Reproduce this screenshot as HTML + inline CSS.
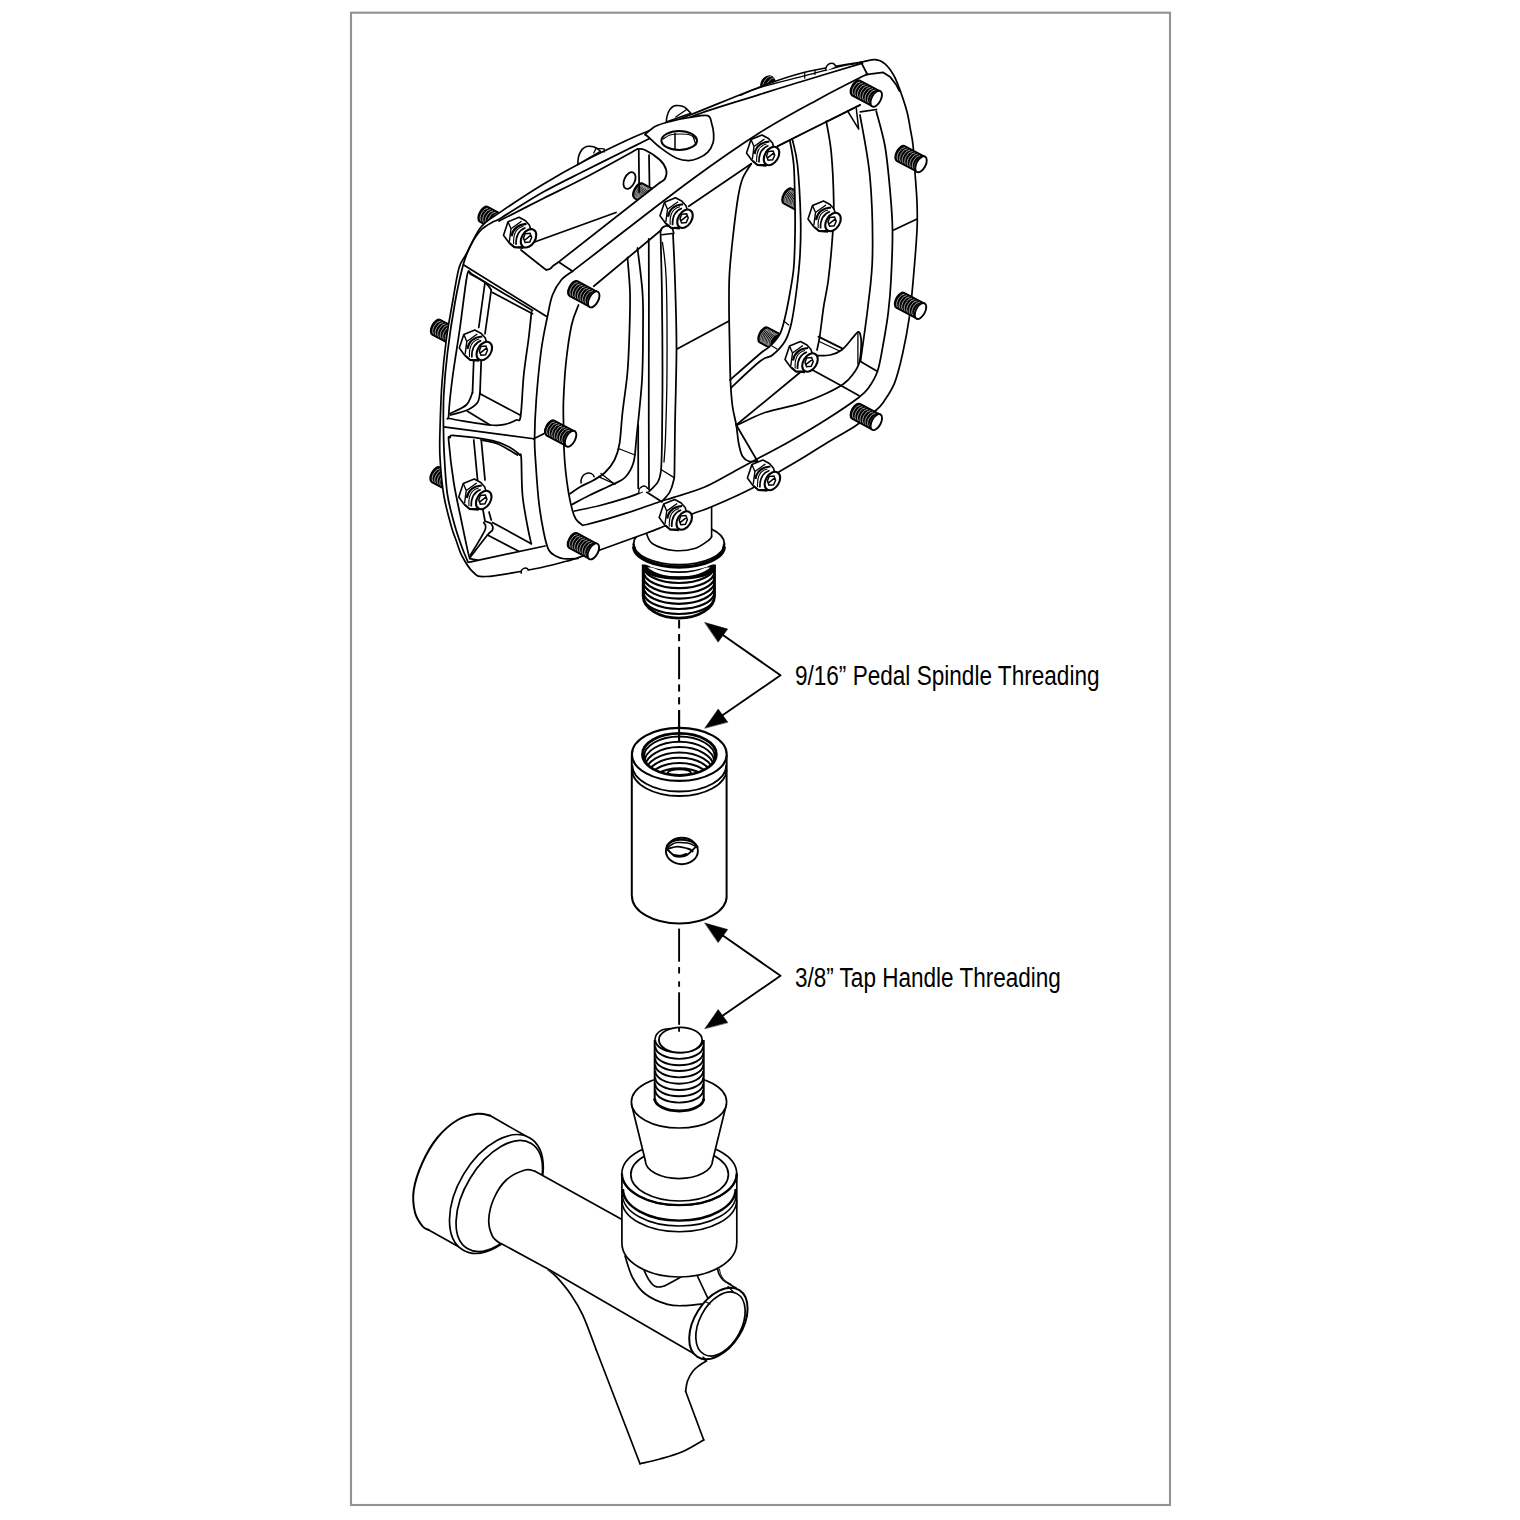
<!DOCTYPE html>
<html><head><meta charset="utf-8"><style>
html,body{margin:0;padding:0;background:#fff;width:1520px;height:1520px;overflow:hidden}
svg{position:absolute;left:0;top:0}
text{font-family:"Liberation Sans",sans-serif}
</style></head><body>
<svg width="1520" height="1520" viewBox="0 0 1520 1520">
<rect x="351" y="12.7" width="819" height="1492.3" fill="none" stroke="#929295" stroke-width="2.1"/>
<text x="0" y="0" font-size="27" transform="translate(794.9,684.9) scale(0.837,1)" fill="#000">9/16” Pedal Spindle Threading</text>
<text x="0" y="0" font-size="27" transform="translate(794.9,986.6) scale(0.835,1)" fill="#000">3/8” Tap Handle Threading</text>
<path d="M720,633 L780.5,675.3 L720,717" fill="none" stroke="#000" stroke-width="1.9" stroke-linejoin="round" stroke-linecap="round" />
<path d="M704.9,622.6 L727.7,629 L718.2,641.9 Z" fill="#000" stroke="#000" stroke-width="0.5" stroke-linejoin="round" stroke-linecap="round" />
<path d="M704.9,728 L718.2,709.1 L727.7,722 Z" fill="#000" stroke="#000" stroke-width="0.5" stroke-linejoin="round" stroke-linecap="round" />
<path d="M720,933.5 L780.5,975.8 L720,1017.5" fill="none" stroke="#000" stroke-width="1.9" stroke-linejoin="round" stroke-linecap="round" />
<path d="M704.9,923.1 L727.7,929.5 L718.2,942.4 Z" fill="#000" stroke="#000" stroke-width="0.5" stroke-linejoin="round" stroke-linecap="round" />
<path d="M704.9,1028.5 L718.2,1009.6 L727.7,1022.5 Z" fill="#000" stroke="#000" stroke-width="0.5" stroke-linejoin="round" stroke-linecap="round" />
<line x1="679.1" y1="620" x2="679.1" y2="628.4" stroke="#000" stroke-width="2.0" stroke-linecap="butt" />
<line x1="679.1" y1="634" x2="679.1" y2="641.2" stroke="#000" stroke-width="2.0" stroke-linecap="butt" />
<line x1="679.1" y1="646.8" x2="679.1" y2="679.2" stroke="#000" stroke-width="2.0" stroke-linecap="butt" />
<line x1="679.1" y1="684.4" x2="679.1" y2="691.6" stroke="#000" stroke-width="2.0" stroke-linecap="butt" />
<line x1="679.1" y1="697.2" x2="679.1" y2="704.4" stroke="#000" stroke-width="2.0" stroke-linecap="butt" />
<line x1="679.1" y1="710" x2="679.1" y2="745" stroke="#000" stroke-width="2.0" stroke-linecap="butt" />
<line x1="679.1" y1="928.6" x2="679.1" y2="961.7" stroke="#000" stroke-width="1.9" stroke-linecap="butt" />
<line x1="679.1" y1="967.1" x2="679.1" y2="973.5" stroke="#000" stroke-width="1.9" stroke-linecap="butt" />
<line x1="679.1" y1="981.4" x2="679.1" y2="986.8" stroke="#000" stroke-width="1.9" stroke-linecap="butt" />
<line x1="679.1" y1="992.3" x2="679.1" y2="1024.8" stroke="#000" stroke-width="1.9" stroke-linecap="butt" />
<line x1="679.1" y1="1027.3" x2="679.1" y2="1031.7" stroke="#000" stroke-width="1.9" stroke-linecap="butt" />
<defs><clipPath id="thr"><path d="M643.2,566 L643.2,596 A35.6,22 0 0 0 714.5,596 L714.5,566 Z"/></clipPath></defs>
<path d="M643.2,566 L643.2,596 A35.6,22 0 0 0 714.5,596 L714.5,566 Z" fill="#fff" stroke="none"/>
<path d="M643.4,555 A35.6,17 0 0 0 714.6,555" fill="none" stroke="#000" stroke-width="2.2" clip-path="url(#thr)"/>
<path d="M643.4,560.8 A35.6,17 0 0 0 714.6,560.8" fill="none" stroke="#000" stroke-width="2.2" clip-path="url(#thr)"/>
<path d="M643.4,566 A35.6,17 0 0 0 714.6,566" fill="none" stroke="#000" stroke-width="2.2" clip-path="url(#thr)"/>
<path d="M643.4,571.2 A35.6,17 0 0 0 714.6,571.2" fill="none" stroke="#000" stroke-width="2.2" clip-path="url(#thr)"/>
<path d="M643.4,576.4 A35.6,17 0 0 0 714.6,576.4" fill="none" stroke="#000" stroke-width="2.2" clip-path="url(#thr)"/>
<path d="M643.4,581.6 A35.6,17 0 0 0 714.6,581.6" fill="none" stroke="#000" stroke-width="2.2" clip-path="url(#thr)"/>
<path d="M643.4,586.8 A35.6,17 0 0 0 714.6,586.8" fill="none" stroke="#000" stroke-width="2.2" clip-path="url(#thr)"/>
<path d="M643.4,592 A35.6,17 0 0 0 714.6,592" fill="none" stroke="#000" stroke-width="2.2" clip-path="url(#thr)"/>
<path d="M643.4,597 A35.6,17 0 0 0 714.6,597" fill="none" stroke="#000" stroke-width="2.2" clip-path="url(#thr)"/>
<path d="M643.2,566 L643.2,596 A35.6,22 0 0 0 714.5,596 L714.5,566 Z" fill="none" stroke="#000" stroke-width="2.8"/>
<path d="M645,568 A34,10 0 0 0 713,568" fill="none" stroke="#000" stroke-width="3.5"/>
<path d="M633.5,543.7 L634.4,553.6 A45,21 0 0 0 723.3,553.6 L724.2,543.7 Z" fill="#fff" stroke="none"/>
<ellipse cx="679" cy="543.7" rx="45.4" ry="21" fill="#fff" stroke="#000" stroke-width="1.8" />
<path d="M633.8,546.5 A45.2,20.5 0 0 0 724.2,546.5" fill="none" stroke="#000" stroke-width="3.4" />
<line x1="633.5" y1="543.7" x2="634.4" y2="550" stroke="#000" stroke-width="2.4" stroke-linecap="butt" />
<line x1="724.2" y1="543.7" x2="723.3" y2="550" stroke="#000" stroke-width="2.4" stroke-linecap="butt" />
<path d="M646.3,533.2 L646.3,512 L711.6,504 L711.6,537 A33,18 0 0 1 646.3,533.2 Z" fill="#fff" stroke="none"/>
<path d="M646.3,533.2 C647.35,534.95 648.03,540.82 652.6,543.7 C657.17,546.58 666.68,549.72 673.7,550.5 C680.72,551.28 688.73,550.23 694.7,548.4 C700.67,546.57 706.68,541.57 709.5,539.5 C712.32,537.43 711.25,536.58 711.6,536" fill="none" stroke="#000" stroke-width="1.6" stroke-linejoin="round" stroke-linecap="round" />
<line x1="711.6" y1="506.8" x2="711.6" y2="537.4" stroke="#000" stroke-width="1.6" stroke-linecap="butt" />
<g transform="translate(504,225) rotate(28)"><path d="M0,-8.7 L-23.0,-8.7 A4.6,8.7 0 0 0 -23.0,8.7 L0,8.7 Z" fill="#000" stroke="#000" stroke-width="1.3"/><path d="M-22,-7.4 A4.6,7.699999999999999 0 0 0 -22,7.4" fill="none" stroke="#fff" stroke-width="0.6" opacity="0.9"/><path d="M-19.14,-7.4 A4.6,7.699999999999999 0 0 0 -19.14,7.4" fill="none" stroke="#fff" stroke-width="0.6" opacity="0.9"/><path d="M-16.29,-7.4 A4.6,7.699999999999999 0 0 0 -16.29,7.4" fill="none" stroke="#fff" stroke-width="0.6" opacity="0.9"/><path d="M-13.43,-7.4 A4.6,7.699999999999999 0 0 0 -13.43,7.4" fill="none" stroke="#fff" stroke-width="0.6" opacity="0.9"/><path d="M-10.57,-7.4 A4.6,7.699999999999999 0 0 0 -10.57,7.4" fill="none" stroke="#fff" stroke-width="0.6" opacity="0.9"/><path d="M-7.71,-7.4 A4.6,7.699999999999999 0 0 0 -7.71,7.4" fill="none" stroke="#fff" stroke-width="0.6" opacity="0.9"/><path d="M-4.86,-7.4 A4.6,7.699999999999999 0 0 0 -4.86,7.4" fill="none" stroke="#fff" stroke-width="0.6" opacity="0.9"/><path d="M-2,-7.4 A4.6,7.699999999999999 0 0 0 -2,7.4" fill="none" stroke="#fff" stroke-width="0.6" opacity="0.9"/><ellipse cx="0" cy="0" rx="4.6" ry="8.7" fill="#fff" stroke="#000" stroke-width="1.9"/></g>
<g transform="translate(456.5,338) rotate(28)"><path d="M0,-8.7 L-23.0,-8.7 A4.6,8.7 0 0 0 -23.0,8.7 L0,8.7 Z" fill="#000" stroke="#000" stroke-width="1.3"/><path d="M-22,-7.4 A4.6,7.699999999999999 0 0 0 -22,7.4" fill="none" stroke="#fff" stroke-width="0.6" opacity="0.9"/><path d="M-19.14,-7.4 A4.6,7.699999999999999 0 0 0 -19.14,7.4" fill="none" stroke="#fff" stroke-width="0.6" opacity="0.9"/><path d="M-16.29,-7.4 A4.6,7.699999999999999 0 0 0 -16.29,7.4" fill="none" stroke="#fff" stroke-width="0.6" opacity="0.9"/><path d="M-13.43,-7.4 A4.6,7.699999999999999 0 0 0 -13.43,7.4" fill="none" stroke="#fff" stroke-width="0.6" opacity="0.9"/><path d="M-10.57,-7.4 A4.6,7.699999999999999 0 0 0 -10.57,7.4" fill="none" stroke="#fff" stroke-width="0.6" opacity="0.9"/><path d="M-7.71,-7.4 A4.6,7.699999999999999 0 0 0 -7.71,7.4" fill="none" stroke="#fff" stroke-width="0.6" opacity="0.9"/><path d="M-4.86,-7.4 A4.6,7.699999999999999 0 0 0 -4.86,7.4" fill="none" stroke="#fff" stroke-width="0.6" opacity="0.9"/><path d="M-2,-7.4 A4.6,7.699999999999999 0 0 0 -2,7.4" fill="none" stroke="#fff" stroke-width="0.6" opacity="0.9"/><ellipse cx="0" cy="0" rx="4.6" ry="8.7" fill="#fff" stroke="#000" stroke-width="1.9"/></g>
<g transform="translate(456,485.5) rotate(28)"><path d="M0,-8.7 L-23.0,-8.7 A4.6,8.7 0 0 0 -23.0,8.7 L0,8.7 Z" fill="#000" stroke="#000" stroke-width="1.3"/><path d="M-22,-7.4 A4.6,7.699999999999999 0 0 0 -22,7.4" fill="none" stroke="#fff" stroke-width="0.6" opacity="0.9"/><path d="M-19.14,-7.4 A4.6,7.699999999999999 0 0 0 -19.14,7.4" fill="none" stroke="#fff" stroke-width="0.6" opacity="0.9"/><path d="M-16.29,-7.4 A4.6,7.699999999999999 0 0 0 -16.29,7.4" fill="none" stroke="#fff" stroke-width="0.6" opacity="0.9"/><path d="M-13.43,-7.4 A4.6,7.699999999999999 0 0 0 -13.43,7.4" fill="none" stroke="#fff" stroke-width="0.6" opacity="0.9"/><path d="M-10.57,-7.4 A4.6,7.699999999999999 0 0 0 -10.57,7.4" fill="none" stroke="#fff" stroke-width="0.6" opacity="0.9"/><path d="M-7.71,-7.4 A4.6,7.699999999999999 0 0 0 -7.71,7.4" fill="none" stroke="#fff" stroke-width="0.6" opacity="0.9"/><path d="M-4.86,-7.4 A4.6,7.699999999999999 0 0 0 -4.86,7.4" fill="none" stroke="#fff" stroke-width="0.6" opacity="0.9"/><path d="M-2,-7.4 A4.6,7.699999999999999 0 0 0 -2,7.4" fill="none" stroke="#fff" stroke-width="0.6" opacity="0.9"/><ellipse cx="0" cy="0" rx="4.6" ry="8.7" fill="#fff" stroke="#000" stroke-width="1.9"/></g>
<g transform="rotate(28 768 84)"><ellipse cx="768" cy="84" rx="7.5" ry="9" fill="#000"/><path d="M764,76 A4,8 0 0 0 764,92 M767.5,76 A4,8 0 0 0 767.5,92 M771,76 A4,8 0 0 0 771,92" fill="none" stroke="#fff" stroke-width="0.5"/></g>
<path d="M913,145 C913.75,152.08 914.33,162.92 915,172.5 C915.67,182.08 916.67,192.92 917,202.5 C917.33,212.08 917.63,217.08 917,230 C916.37,242.92 914.5,265.3 913.2,280 C911.9,294.7 910.97,305.92 909.2,318.2 C907.43,330.48 905.02,342.97 902.6,353.7 C900.18,364.43 897.77,374.72 894.7,382.6 C891.63,390.48 887.27,396.43 884.2,401 C881.13,405.57 881.12,405.83 876.3,410 C871.48,414.17 863.63,420.47 855.3,426 C846.97,431.53 835.52,437.62 826.3,443.2 C817.08,448.78 807.72,454.82 800,459.5 C792.28,464.18 787.9,466.52 780,471.25 C772.1,475.98 764,481.97 752.6,487.9 C741.2,493.82 721.77,502.42 711.6,506.8 C701.43,511.18 700.37,510.6 691.6,514.2 C682.83,517.8 666.55,525.23 659,528.4 C651.45,531.57 656.13,529.6 646.3,533.2 C636.47,536.8 611.72,545.78 600,550 C588.28,554.22 581.62,556.62 576,558.5 C570.38,560.38 573.08,559.54 566.25,561.25 C559.42,562.96 548.38,566.21 535,568.75 C521.62,571.29 496.33,575.96 486,576.5 C475.67,577.04 477,575.42 473,572 C469,568.58 464.83,561.33 462,556 C459.17,550.67 457.79,544.96 456,540 C454.21,535.04 453.29,533.75 451.25,526.25 C449.21,518.75 445.62,506.46 443.75,495 C441.88,483.54 440.62,468.33 440,457.5 C439.38,446.67 439.68,442.29 440,430 C440.32,417.71 440.86,398.75 441.9,383.75 C442.94,368.75 444.48,353.54 446.25,340 C448.02,326.46 450.38,314.5 452.5,302.5 C454.62,290.5 456.7,276.08 459,268 C461.3,259.92 462.63,260.83 466.3,254 C469.97,247.17 475.2,234.07 481,227 C486.8,219.93 490.73,218.73 501.1,211.6 C511.47,204.47 529.17,192.72 543.2,184.2 C557.23,175.68 571.27,167.87 585.3,160.5 C599.33,153.13 617.28,144.75 627.4,140 C637.52,135.25 635.57,136.17 646,132 C656.43,127.83 670.17,122.83 690,115 C709.83,107.17 746.04,92.08 765,85 C783.96,77.92 791.25,75.73 803.75,72.5 C816.25,69.27 830.46,67.33 840,65.6 C849.54,63.87 855.12,63.08 861,62.1 C866.88,61.12 871.35,59.43 875.3,59.7 C879.25,59.97 881.68,61.2 884.7,63.7 C887.72,66.2 891.02,70.75 893.4,74.7 C895.78,78.65 896.77,81.35 899,87.4 C901.23,93.45 904.88,103.9 906.8,111 C908.72,118.1 909.47,124.33 910.5,130 C911.53,135.67 912.25,137.92 913,145 Z" fill="#fff" stroke="#000" stroke-width="1.7" stroke-linejoin="round"/>
<path d="M862.5,63.1 C852.08,66.25 817.08,76.78 800,82 C782.92,87.22 777.92,88.69 760,94.4 C742.08,100.11 711.25,108.73 692.5,116.25 C673.75,123.77 658.35,133.96 647.5,139.5 C636.65,145.04 637.77,144.33 627.4,149.5 C617.03,154.67 599.33,163.4 585.3,170.5 C571.27,177.6 557.23,184.2 543.2,192.1 C529.17,200 509.35,213 501.1,217.9 C492.85,222.8 497.05,219.48 493.7,221.5 C490.35,223.52 484.87,225.95 481,230 C477.13,234.05 473.47,240.02 470.5,245.8 C467.53,251.58 465.78,255.25 463.2,264.7 C460.62,274.15 457.62,287.87 455,302.5 C452.38,317.13 449.38,337.08 447.5,352.5 C445.62,367.92 444.42,382.08 443.75,395 C443.08,407.92 443.39,419.58 443.5,430 C443.61,440.42 443.73,446.67 444.4,457.5 C445.07,468.33 445.73,483.54 447.5,495 C449.27,506.46 452.5,517.29 455,526.25 C457.5,535.21 460.33,542.79 462.5,548.75 C464.67,554.71 467.08,559.79 468,562" fill="none" stroke="#000" stroke-width="1.75" stroke-linejoin="round" stroke-linecap="round" />
<path d="M468.5,562.3 L545,546" fill="none" stroke="#000" stroke-width="1.75" stroke-linejoin="round" stroke-linecap="round" />
<path d="M861,62.1 L867.4,74.5" fill="none" stroke="#000" stroke-width="1.75" stroke-linejoin="round" stroke-linecap="round" />
<path d="M740,95.5 C743.28,94.18 749.2,90.82 759.7,87.6 C770.2,84.38 789.83,79.67 803,76.2 C816.17,72.73 829.53,68.92 838.7,66.8 C847.87,64.68 854.78,64.05 858,63.5" fill="none" stroke="#000" stroke-width="1.2" stroke-linejoin="round" stroke-linecap="round" />
<path d="M804.7,72.6 L804.7,78.2" fill="none" stroke="#000" stroke-width="1.2" stroke-linejoin="round" stroke-linecap="round" />
<path d="M815,70.5 L815,74.5" fill="none" stroke="#000" stroke-width="1.2" stroke-linejoin="round" stroke-linecap="round" />
<path d="M463.75,265 L546.25,316.25" fill="none" stroke="#000" stroke-width="1.75" stroke-linejoin="round" stroke-linecap="round" />
<path d="M572.5,271.25 C570.62,272.71 564.58,276.04 561.25,280 C557.92,283.96 554.79,288.96 552.5,295 C550.21,301.04 549.38,307.08 547.5,316.25 C545.62,325.42 543.12,336.04 541.25,350 C539.38,363.96 537.36,385.42 536.25,400 C535.14,414.58 534.73,427.5 534.6,437.5 C534.48,447.5 534.81,449.38 535.5,460 C536.19,470.62 537.38,489.17 538.75,501.25 C540.12,513.33 542.08,524.38 543.75,532.5 C545.42,540.62 546.67,546.04 548.75,550 C550.83,553.96 553.75,554.79 556.25,556.25 C558.75,557.71 560.12,558.38 563.75,558.75 C567.38,559.12 575.62,558.54 578,558.5" fill="none" stroke="#000" stroke-width="1.75" stroke-linejoin="round" stroke-linecap="round" />
<path d="M443.75,426.9 L533.75,438.75" fill="none" stroke="#000" stroke-width="1.75" stroke-linejoin="round" stroke-linecap="round" />
<path d="M533.75,438.75 L543.75,433.75" fill="none" stroke="#000" stroke-width="1.75" stroke-linejoin="round" stroke-linecap="round" />
<path d="M532.5,310.5 C522.92,304.75 485.33,282.25 475,276 C464.67,269.75 471.83,273 470.5,273 C469.17,273 468.75,266.92 467,276 C465.25,285.08 462.42,310.58 460,327.5 C457.58,344.42 454.38,362.92 452.5,377.5 C450.62,392.08 448.96,408.12 448.75,415 C448.54,421.88 444.38,417.08 451.25,418.75 C458.12,420.42 481.04,424.06 490,425 C498.96,425.94 500.62,425.23 505,424.4 C509.38,423.57 513.65,421.36 516.25,420 C518.85,418.64 519.35,423.75 520.6,416.25 C521.85,408.75 522.39,388.12 523.75,375 C525.11,361.88 527.46,348 528.75,337.5 C530.04,327 531.04,316.25 531.5,312" fill="none" stroke="#000" stroke-width="1.75" stroke-linejoin="round" stroke-linecap="round" />
<path d="M470,273.75 C472.5,275.21 481.46,279.79 485,282.5 C488.54,285.21 490.21,288.75 491.25,290" fill="none" stroke="#000" stroke-width="1.75" stroke-linejoin="round" stroke-linecap="round" />
<path d="M491.25,290 L485,333.75" fill="none" stroke="#000" stroke-width="1.75" stroke-linejoin="round" stroke-linecap="round" />
<path d="M481.25,360 L480,392.5" fill="none" stroke="#000" stroke-width="1.75" stroke-linejoin="round" stroke-linecap="round" />
<path d="M485,282.5 L478.75,327.5" fill="none" stroke="#000" stroke-width="1.75" stroke-linejoin="round" stroke-linecap="round" />
<path d="M473.75,360 L472.5,392.5" fill="none" stroke="#000" stroke-width="1.75" stroke-linejoin="round" stroke-linecap="round" />
<path d="M480,392.5 C479.58,394.17 479.58,399.58 477.5,402.5 C475.42,405.42 472,407.92 467.5,410 C463,412.08 453.33,414.17 450.5,415" fill="none" stroke="#000" stroke-width="1.75" stroke-linejoin="round" stroke-linecap="round" />
<path d="M472.5,392.5 C471.46,394.58 470,401.5 466.25,405 C462.5,408.5 452.71,412.08 450,413.5" fill="none" stroke="#000" stroke-width="1.75" stroke-linejoin="round" stroke-linecap="round" />
<path d="M480,393.75 L520,415" fill="none" stroke="#000" stroke-width="1.75" stroke-linejoin="round" stroke-linecap="round" />
<path d="M467.5,411.25 L490,425" fill="none" stroke="#000" stroke-width="1.75" stroke-linejoin="round" stroke-linecap="round" />
<path d="M492.5,292.5 L532.5,313.75" fill="none" stroke="#000" stroke-width="1.75" stroke-linejoin="round" stroke-linecap="round" />
<path d="M520,455 C518.33,453.75 514.58,449.9 510,447.5 C505.42,445.1 501.67,442.58 492.5,440.6 C483.33,438.62 462.08,436.12 455,435.6 C447.92,435.08 451.04,436.56 450,437.5 C448.96,438.44 448.12,433.75 448.75,441.25 C449.38,448.75 451.67,469.38 453.75,482.5 C455.83,495.62 458.75,507.92 461.25,520 C463.75,532.08 467.08,548.54 468.75,555 C470.42,561.46 469.79,557.92 471.25,558.75 C472.71,559.58 476.46,559.79 477.5,560" fill="none" stroke="#000" stroke-width="1.75" stroke-linejoin="round" stroke-linecap="round" />
<path d="M520,455 C520.21,455.5 520.83,451.33 521.25,458 C521.67,464.67 521.46,483.62 522.5,495 C523.54,506.38 526.04,518.12 527.5,526.25 C528.96,534.38 530.62,540.83 531.25,543.75" fill="none" stroke="#000" stroke-width="1.75" stroke-linejoin="round" stroke-linecap="round" />
<path d="M473.75,440 L478.5,490" fill="none" stroke="#000" stroke-width="1.75" stroke-linejoin="round" stroke-linecap="round" />
<path d="M482.5,507.5 L485,521" fill="none" stroke="#000" stroke-width="1.75" stroke-linejoin="round" stroke-linecap="round" />
<path d="M481.25,440 L485,480" fill="none" stroke="#000" stroke-width="1.75" stroke-linejoin="round" stroke-linecap="round" />
<path d="M489,512 L491.25,520" fill="none" stroke="#000" stroke-width="1.75" stroke-linejoin="round" stroke-linecap="round" />
<path d="M485,521.25 C486.04,521.67 490,522.29 491.25,523.75 C492.5,525.21 493.12,528.12 492.5,530 C491.88,531.88 491.25,530.42 487.5,535 C483.75,539.58 472.92,553.75 470,557.5" fill="none" stroke="#000" stroke-width="1.75" stroke-linejoin="round" stroke-linecap="round" />
<path d="M483.75,522.5 C483.96,523.75 487.21,524.58 485,530 C482.79,535.42 472.92,550.83 470.5,555" fill="none" stroke="#000" stroke-width="1.75" stroke-linejoin="round" stroke-linecap="round" />
<path d="M487.5,535 L518.75,551.25" fill="none" stroke="#000" stroke-width="1.75" stroke-linejoin="round" stroke-linecap="round" />
<path d="M492.5,522.5 L531.25,543.75" fill="none" stroke="#000" stroke-width="1.75" stroke-linejoin="round" stroke-linecap="round" />
<path d="M481.25,440 C483.96,440.62 491.46,441.25 497.5,443.75 C503.54,446.25 514.17,453.12 517.5,455" fill="none" stroke="#000" stroke-width="1.75" stroke-linejoin="round" stroke-linecap="round" />
<g transform="translate(649,196.5) rotate(28)"><path d="M0,-8.7 L-12,-8.7 A4.6,8.7 0 0 0 -12,8.7 L0,8.7 Z" fill="#000" stroke="#000" stroke-width="1.3"/><path d="M-11,-7.4 A4.6,7.699999999999999 0 0 0 -11,7.4" fill="none" stroke="#fff" stroke-width="0.6" opacity="0.9"/><path d="M-9.71,-7.4 A4.6,7.699999999999999 0 0 0 -9.71,7.4" fill="none" stroke="#fff" stroke-width="0.6" opacity="0.9"/><path d="M-8.43,-7.4 A4.6,7.699999999999999 0 0 0 -8.43,7.4" fill="none" stroke="#fff" stroke-width="0.6" opacity="0.9"/><path d="M-7.14,-7.4 A4.6,7.699999999999999 0 0 0 -7.14,7.4" fill="none" stroke="#fff" stroke-width="0.6" opacity="0.9"/><path d="M-5.86,-7.4 A4.6,7.699999999999999 0 0 0 -5.86,7.4" fill="none" stroke="#fff" stroke-width="0.6" opacity="0.9"/><path d="M-4.57,-7.4 A4.6,7.699999999999999 0 0 0 -4.57,7.4" fill="none" stroke="#fff" stroke-width="0.6" opacity="0.9"/><path d="M-3.29,-7.4 A4.6,7.699999999999999 0 0 0 -3.29,7.4" fill="none" stroke="#fff" stroke-width="0.6" opacity="0.9"/><path d="M-2,-7.4 A4.6,7.699999999999999 0 0 0 -2,7.4" fill="none" stroke="#fff" stroke-width="0.6" opacity="0.9"/></g>
<path d="M660,182.5 L558.75,261.9 L572.5,271.25 L600,250 L691.25,180 L672,168 Z" fill="#fff" stroke="none"/>
<path d="M499,221 C506.37,217.25 528.82,205.75 543.2,198.5 C557.58,191.25 569.58,185.75 585.3,177.5 C601.02,169.25 628.8,153.75 637.5,149" fill="none" stroke="#000" stroke-width="1.75" stroke-linejoin="round" stroke-linecap="round" />
<path d="M637.5,149 C638.75,149.17 641.25,148.17 645,150 C648.75,151.83 656.46,156.67 660,160 C663.54,163.33 665.42,166.88 666.25,170 C667.08,173.12 666.04,176.67 665,178.75 C663.96,180.83 660.83,181.88 660,182.5" fill="none" stroke="#000" stroke-width="1.75" stroke-linejoin="round" stroke-linecap="round" />
<path d="M638.75,150 L639.2,192" fill="none" stroke="#000" stroke-width="1.75" stroke-linejoin="round" stroke-linecap="round" />
<path d="M649,155 L649.5,186" fill="none" stroke="#000" stroke-width="1.75" stroke-linejoin="round" stroke-linecap="round" />
<ellipse cx="629.5" cy="180.5" rx="5.3" ry="8.8" fill="none" stroke="#000" stroke-width="1.8" transform="rotate(25 629.5 180.5)" />
<path d="M660,182.5 L558.75,261.9" fill="none" stroke="#000" stroke-width="1.75" stroke-linejoin="round" stroke-linecap="round" />
<path d="M529,244 L616,212.5" fill="none" stroke="#000" stroke-width="1.75" stroke-linejoin="round" stroke-linecap="round" />
<path d="M521,250 C524.83,253.03 539.67,264.93 544,268.2 C548.33,271.47 545.92,269.55 547,269.6 C548.08,269.65 549.42,269.18 550.5,268.5 C551.58,267.82 552.12,266.6 553.5,265.5 C554.88,264.4 557.88,262.5 558.75,261.9" fill="none" stroke="#000" stroke-width="1.75" stroke-linejoin="round" stroke-linecap="round" />
<path d="M558.75,262 L572.5,271.25" fill="none" stroke="#000" stroke-width="1.75" stroke-linejoin="round" stroke-linecap="round" />
<path d="M666.2,122 C667,112 671,106 675.7,105.6 C680,105.2 684,106.5 686.3,108.6 L691,113.3 Z" fill="#fff" stroke="#000" stroke-width="1.6" stroke-linejoin="round"/>
<path d="M675.7,117 L686.3,109.7" fill="none" stroke="#000" stroke-width="1.3" stroke-linejoin="round" stroke-linecap="round" />
<path d="M644.9,134.6 C646.67,133.22 651.37,128.47 655.5,126.3 C659.63,124.13 663.95,123.07 669.7,121.6 C675.45,120.13 683.68,118.48 690,117.5 C696.32,116.52 703.97,114.62 707.6,115.7 C711.23,116.78 710.8,121.05 711.8,124 C712.8,126.95 713.4,130.25 713.6,133.4 C713.8,136.55 714,139.73 713,142.9 C712,146.07 710.07,149.83 707.6,152.4 C705.13,154.97 701.35,156.92 698.2,158.3 C695.05,159.68 692.27,160.7 688.7,160.7 C685.13,160.7 681.53,160.48 676.8,158.3 C672.07,156.12 665.03,151.15 660.3,147.6 C655.57,144.05 650.97,139.17 648.4,137 C645.83,134.83 645.48,135 644.9,134.6" fill="#fff" stroke="#000" stroke-width="1.75" stroke-linejoin="round" stroke-linecap="round" />
<ellipse cx="679.2" cy="140.5" rx="17.8" ry="9.5" fill="none" stroke="#000" stroke-width="2.0" />
<path d="M663,139 C664.17,138.33 667.17,135.83 670,135 C672.83,134.17 676.67,134 680,134 C683.33,134 687.33,134.17 690,135 C692.67,135.83 695,138.33 696,139" fill="none" stroke="#000" stroke-width="1.2" stroke-linejoin="round" stroke-linecap="round" />
<path d="M675,133.5 L675,149.5" fill="none" stroke="#000" stroke-width="1.5" stroke-linejoin="round" stroke-linecap="round" />
<path d="M692.5,135 L696,145" fill="none" stroke="#000" stroke-width="1.2" stroke-linejoin="round" stroke-linecap="round" />
<path d="M577.9,164.5 C577.5,154 582,146.3 589,146.3 C594,146.3 598,148.5 600.5,151.5 Z" fill="#fff" stroke="#000" stroke-width="1.6"/>
<path d="M593.7,153 L596,148.4 L604.2,148.8 L604.2,152" fill="none" stroke="#000" stroke-width="1.3" stroke-linejoin="round" stroke-linecap="round" />
<path d="M826.05,71.03 A4.675,5.5 28 0 1 835.67,66.35" fill="#fff" stroke="#000" stroke-width="1.5"/>
<path d="M572.5,271.25 C577.08,267.71 580.21,265.21 600,250 C619.79,234.79 664.58,199.58 691.25,180 C717.92,160.42 738.54,146.1 760,132.5 C781.46,118.9 802.37,108.03 820,98.4 C837.63,88.77 858.17,78.65 865.8,74.7" fill="none" stroke="#000" stroke-width="1.75" stroke-linejoin="round" stroke-linecap="round" />
<path d="M865.8,74.7 L883.2,72.4 L890.3,77.1 L895.8,84.2 L899.5,91" fill="none" stroke="#000" stroke-width="1.75" stroke-linejoin="round" stroke-linecap="round" />
<path d="M578.5,305 C577.35,308.33 573.68,315.42 571.6,325 C569.52,334.58 567.35,350 566,362.5 C564.65,375 563.92,390 563.5,400 C563.08,410 563.42,414.38 563.5,422.5 C563.58,430.62 563.67,440.83 564,448.75 C564.33,456.67 564.72,462.51 565.5,470 C566.28,477.49 567.52,486.87 568.7,493.7 C569.88,500.53 571.42,506.78 572.6,511 C573.78,515.22 574.35,516.82 575.8,519 C577.25,521.18 579.47,523.18 581.3,524.1 C583.13,525.02 579.82,526.15 586.8,524.5 C593.78,522.85 611.18,517.95 623.2,514.2 C635.22,510.45 650.48,504.8 658.9,502 C667.32,499.2 665.97,499.93 673.7,497.4 C681.43,494.87 694.78,491.37 705.3,486.8 C715.82,482.23 728.1,474.68 736.8,470 C745.5,465.32 748.63,463.54 757.5,458.75 C766.37,453.96 778.33,447.92 790,441.25 C801.67,434.58 816.04,426.04 827.5,418.75 C838.96,411.46 851.88,402.71 858.75,397.5 C865.62,392.29 865.61,391.92 868.75,387.5 C871.89,383.08 875.24,377.95 877.6,371 C879.96,364.05 881.13,355.48 882.9,345.8 C884.67,336.12 886.85,323.87 888.2,312.9 C889.55,301.93 890.28,293.82 891,280 C891.72,266.18 892.67,245 892.5,230 C892.33,215 891.25,203.96 890,190 C888.75,176.04 887.29,159.38 885,146.25 C882.71,133.12 877.71,117.08 876.25,111.25" fill="none" stroke="#000" stroke-width="1.75" stroke-linejoin="round" stroke-linecap="round" />
<path d="M593.75,286.25 L661.25,230" fill="none" stroke="#000" stroke-width="1.75" stroke-linejoin="round" stroke-linecap="round" />
<path d="M688.75,206.25 L751.25,163.75" fill="none" stroke="#000" stroke-width="1.75" stroke-linejoin="round" stroke-linecap="round" />
<path d="M777.5,146.25 L860,105" fill="none" stroke="#000" stroke-width="1.75" stroke-linejoin="round" stroke-linecap="round" />
<path d="M847.6,111 L858.7,129.2 L856.3,108.7" fill="none" stroke="#000" stroke-width="1.5" stroke-linejoin="round" stroke-linecap="round" />
<path d="M860.3,111.8 L876.5,109.5" fill="none" stroke="#000" stroke-width="1.75" stroke-linejoin="round" stroke-linecap="round" />
<g transform="translate(800,202.6) rotate(28)"><path d="M0,-8.7 L-14,-8.7 A4.6,8.7 0 0 0 -14,8.7 L0,8.7 Z" fill="#000" stroke="#000" stroke-width="1.3"/><path d="M-13,-7.4 A4.6,7.699999999999999 0 0 0 -13,7.4" fill="none" stroke="#fff" stroke-width="0.6" opacity="0.9"/><path d="M-11.43,-7.4 A4.6,7.699999999999999 0 0 0 -11.43,7.4" fill="none" stroke="#fff" stroke-width="0.6" opacity="0.9"/><path d="M-9.86,-7.4 A4.6,7.699999999999999 0 0 0 -9.86,7.4" fill="none" stroke="#fff" stroke-width="0.6" opacity="0.9"/><path d="M-8.29,-7.4 A4.6,7.699999999999999 0 0 0 -8.29,7.4" fill="none" stroke="#fff" stroke-width="0.6" opacity="0.9"/><path d="M-6.71,-7.4 A4.6,7.699999999999999 0 0 0 -6.71,7.4" fill="none" stroke="#fff" stroke-width="0.6" opacity="0.9"/><path d="M-5.14,-7.4 A4.6,7.699999999999999 0 0 0 -5.14,7.4" fill="none" stroke="#fff" stroke-width="0.6" opacity="0.9"/><path d="M-3.57,-7.4 A4.6,7.699999999999999 0 0 0 -3.57,7.4" fill="none" stroke="#fff" stroke-width="0.6" opacity="0.9"/><path d="M-2,-7.4 A4.6,7.699999999999999 0 0 0 -2,7.4" fill="none" stroke="#fff" stroke-width="0.6" opacity="0.9"/></g>
<g transform="translate(776,341.6) rotate(28)"><path d="M0,-8.7 L-14,-8.7 A4.6,8.7 0 0 0 -14,8.7 L0,8.7 Z" fill="#000" stroke="#000" stroke-width="1.3"/><path d="M-13,-7.4 A4.6,7.699999999999999 0 0 0 -13,7.4" fill="none" stroke="#fff" stroke-width="0.6" opacity="0.9"/><path d="M-11.43,-7.4 A4.6,7.699999999999999 0 0 0 -11.43,7.4" fill="none" stroke="#fff" stroke-width="0.6" opacity="0.9"/><path d="M-9.86,-7.4 A4.6,7.699999999999999 0 0 0 -9.86,7.4" fill="none" stroke="#fff" stroke-width="0.6" opacity="0.9"/><path d="M-8.29,-7.4 A4.6,7.699999999999999 0 0 0 -8.29,7.4" fill="none" stroke="#fff" stroke-width="0.6" opacity="0.9"/><path d="M-6.71,-7.4 A4.6,7.699999999999999 0 0 0 -6.71,7.4" fill="none" stroke="#fff" stroke-width="0.6" opacity="0.9"/><path d="M-5.14,-7.4 A4.6,7.699999999999999 0 0 0 -5.14,7.4" fill="none" stroke="#fff" stroke-width="0.6" opacity="0.9"/><path d="M-3.57,-7.4 A4.6,7.699999999999999 0 0 0 -3.57,7.4" fill="none" stroke="#fff" stroke-width="0.6" opacity="0.9"/><path d="M-2,-7.4 A4.6,7.699999999999999 0 0 0 -2,7.4" fill="none" stroke="#fff" stroke-width="0.6" opacity="0.9"/></g>
<path d="M790,141.25 C790.62,145.21 792.92,154.38 793.75,165 C794.58,175.62 794.79,193.12 795,205 C795.21,216.88 795.21,225.83 795,236.25 C794.79,246.67 794.58,258.12 793.75,267.5 C792.92,276.88 791.46,284.17 790,292.5 C788.54,300.83 786.67,310.62 785,317.5 C783.33,324.38 782.5,328.96 780,333.75 C777.5,338.54 773.33,342.92 770,346.25 C766.67,349.58 766.67,348.12 760,353.75 C753.33,359.38 735,375.62 730,380 L760,400 L817,352 L823.7,306.3 L832,236 L833,160 L826,121 Z" fill="#fff" stroke="none"/>
<path d="M777.5,146.25 L860,105" fill="none" stroke="#000" stroke-width="1.75" stroke-linejoin="round" stroke-linecap="round" />
<path d="M751.25,163.75 C749.79,166.25 744.71,173.12 742.5,178.75 C740.29,184.38 739.58,187.92 738,197.5 C736.42,207.08 734.42,223.54 733,236.25 C731.58,248.96 730.17,262.29 729.5,273.75 C728.83,285.21 729,294.38 729,305 C729,315.62 729.25,324.79 729.5,337.5 C729.75,350.21 730,369.79 730.5,381.25 C731,392.71 731.54,398.96 732.5,406.25 C733.46,413.54 735.21,418.75 736.25,425 C737.29,431.25 737.71,438.54 738.75,443.75 C739.79,448.96 740.83,453.33 742.5,456.25 C744.17,459.17 746.25,460.42 748.75,461.25 C751.25,462.08 756.04,461.25 757.5,461.25" fill="none" stroke="#000" stroke-width="1.75" stroke-linejoin="round" stroke-linecap="round" />
<path d="M790,141.25 C790.62,145.21 792.92,154.38 793.75,165 C794.58,175.62 794.79,193.12 795,205 C795.21,216.88 795.21,225.83 795,236.25 C794.79,246.67 794.58,258.12 793.75,267.5 C792.92,276.88 791.46,284.17 790,292.5 C788.54,300.83 786.67,310.62 785,317.5 C783.33,324.38 782.5,328.96 780,333.75 C777.5,338.54 773.33,342.92 770,346.25 C766.67,349.58 766.67,348.12 760,353.75 C753.33,359.38 735,375.62 730,380" fill="none" stroke="#000" stroke-width="1.75" stroke-linejoin="round" stroke-linecap="round" />
<path d="M792.5,140 C793.33,144.17 796.15,152.08 797.5,165 C798.85,177.92 800.18,202.5 800.6,217.5 C801.02,232.5 800.73,242.5 800,255 C799.27,267.5 797.71,281.04 796.25,292.5 C794.79,303.96 793.12,315.62 791.25,323.75 C789.38,331.88 788.12,336.04 785,341.25 C781.88,346.46 776.67,351.67 772.5,355 C768.33,358.33 766.88,355.83 760,361.25 C753.12,366.67 736.04,383.12 731.25,387.5" fill="none" stroke="#000" stroke-width="1.75" stroke-linejoin="round" stroke-linecap="round" />
<path d="M783.75,321 L788.75,325" fill="none" stroke="#000" stroke-width="1.2" stroke-linejoin="round" stroke-linecap="round" />
<path d="M772,346 L777,349" fill="none" stroke="#000" stroke-width="1.2" stroke-linejoin="round" stroke-linecap="round" />
<path d="M826.25,121.25 C827.08,126.46 830,138.96 831.25,152.5 C832.5,166.04 833.54,188.54 833.75,202.5 C833.96,216.46 833.41,223.33 832.5,236.25 C831.59,249.17 829.77,268.32 828.3,280 C826.83,291.68 825.13,296.87 823.7,306.3 C822.27,315.73 820.82,329.32 819.7,336.6 C818.58,343.88 817.45,347.77 817,350" fill="none" stroke="#000" stroke-width="1.75" stroke-linejoin="round" stroke-linecap="round" />
<path d="M818.4,336.6 L842.1,348.4" fill="none" stroke="#000" stroke-width="1.75" stroke-linejoin="round" stroke-linecap="round" />
<path d="M819.7,341.8 L839.5,351" fill="none" stroke="#000" stroke-width="1.2" stroke-linejoin="round" stroke-linecap="round" />
<path d="M817.1,355.7 C819.3,355.58 826.13,356 830.3,355 C834.47,354 838.38,352.55 842.1,349.7 C845.82,346.85 849.97,340.85 852.6,337.9 C855.23,334.95 856.58,332.43 857.9,332 C859.22,331.57 859.95,333 860.5,335.3 C861.05,337.6 861.42,341.2 861.2,345.8 C860.98,350.4 860.63,358.08 859.2,362.9 C857.77,367.72 855.23,371.18 852.6,374.7 C849.97,378.22 848,380.78 843.4,384 C838.8,387.22 832.23,390.72 825,394 C817.77,397.28 810,400.62 800,403.7 C790,406.78 775.42,408.95 765,412.5 C754.58,416.05 742.08,422.92 737.5,425" fill="none" stroke="#000" stroke-width="1.75" stroke-linejoin="round" stroke-linecap="round" />
<path d="M857.9,332 L857.9,364" fill="none" stroke="#000" stroke-width="1.3" stroke-linejoin="round" stroke-linecap="round" />
<path d="M860,115 C861.67,125.42 867.92,154.17 870,177.5 C872.08,200.83 872.83,233.58 872.5,255 C872.17,276.42 870,288.33 868,306 C866,323.67 861.75,351.83 860.5,361" fill="none" stroke="#000" stroke-width="1.75" stroke-linejoin="round" stroke-linecap="round" />
<path d="M860.5,361.6 L876.3,370.8" fill="none" stroke="#000" stroke-width="1.75" stroke-linejoin="round" stroke-linecap="round" />
<path d="M893.75,230 L917,219" fill="none" stroke="#000" stroke-width="1.75" stroke-linejoin="round" stroke-linecap="round" />
<path d="M812.5,370 L840,385 L858.75,395.5" fill="none" stroke="#000" stroke-width="1.75" stroke-linejoin="round" stroke-linecap="round" />
<path d="M800,372.5 L736.25,425" fill="none" stroke="#000" stroke-width="1.75" stroke-linejoin="round" stroke-linecap="round" />
<path d="M736.25,425 L757.5,461.25" fill="none" stroke="#000" stroke-width="1.75" stroke-linejoin="round" stroke-linecap="round" />
<path d="M627.5,257.5 C627.92,263.33 629.67,280.42 630,292.5 C630.33,304.58 629.92,316.75 629.5,330 C629.08,343.25 628.67,358.25 627.5,372 C626.33,385.75 623.83,400.54 622.5,412.5 C621.17,424.46 620.83,435.83 619.5,443.75 C618.17,451.67 616.92,455.21 614.5,460 C612.08,464.79 608.58,469.08 605,472.5 C601.42,475.92 597.17,478.08 593,480.5 C588.83,482.92 583.83,484.79 580,487 C576.17,489.21 571.67,492.62 570,493.75" fill="none" stroke="#000" stroke-width="1.75" stroke-linejoin="round" stroke-linecap="round" />
<path d="M637.5,248 C638.33,255.42 641.58,278.83 642.5,292.5 C643.42,306.17 643.08,315.42 643,330 C642.92,344.58 643.08,362.08 642,380 C640.92,397.92 637.92,423.75 636.5,437.5 C635.08,451.25 635.42,455.83 633.5,462.5 C631.58,469.17 628.5,473.83 625,477.5 C621.5,481.17 618.33,481.58 612.5,484.5 C606.67,487.42 596.75,491.67 590,495 C583.25,498.33 575,502.92 572,504.5" fill="none" stroke="#000" stroke-width="1.75" stroke-linejoin="round" stroke-linecap="round" />
<path d="M619,448.75 L635,455" fill="none" stroke="#000" stroke-width="1.3" stroke-linejoin="round" stroke-linecap="round" />
<path d="M601,473.5 L614,483.75" fill="none" stroke="#000" stroke-width="1.3" stroke-linejoin="round" stroke-linecap="round" />
<path d="M648.75,238.75 C648.77,248.96 648.9,269.79 648.9,300 C648.9,330.21 648.73,388.38 648.75,420 C648.77,451.62 648.96,478.08 649,489.7" fill="none" stroke="#000" stroke-width="1.75" stroke-linejoin="round" stroke-linecap="round" />
<path d="M660.6,234 C660.82,243.75 661.58,269.83 661.9,292.5 C662.22,315.17 662.48,345.42 662.5,370 C662.52,394.58 662.25,423.33 662,440 C661.75,456.67 661.68,463.03 661,470 C660.32,476.97 659.87,478.25 657.9,481.8 C655.93,485.35 650.65,489.72 649.2,491.3" fill="none" stroke="#000" stroke-width="1.75" stroke-linejoin="round" stroke-linecap="round" />
<path d="M660.5,233 C660.58,232.42 660.42,230.57 661,229.5 C661.58,228.43 662.77,227.15 664,226.6 C665.23,226.05 667,225.83 668.4,226.2 C669.8,226.57 671.52,227.6 672.4,228.8 C673.28,230 673.48,232.63 673.7,233.4" fill="none" stroke="#000" stroke-width="1.75" stroke-linejoin="round" stroke-linecap="round" />
<path d="M661.8,234.7 L672.4,233.4" fill="none" stroke="#000" stroke-width="1.5" stroke-linejoin="round" stroke-linecap="round" />
<path d="M673,233.75 C673.33,241.46 674.42,261.04 675,280 C675.58,298.96 676.5,323.33 676.5,347.5 C676.5,371.67 675.33,404.58 675,425 C674.67,445.42 674.72,460.78 674.5,470 C674.28,479.22 674.5,476.62 673.7,480.3 C672.9,483.98 671.68,488.55 669.7,492.1 C667.72,495.65 663.12,500.02 661.8,501.6" fill="none" stroke="#000" stroke-width="1.75" stroke-linejoin="round" stroke-linecap="round" />
<path d="M662.5,242.5 C663.12,248.75 665.5,258.75 666.25,280 C667,301.25 667.12,343.75 667,370 C666.88,396.25 666,422.17 665.5,437.5 C665,452.83 664.25,457.92 664,462" fill="none" stroke="#000" stroke-width="1.3" stroke-linejoin="round" stroke-linecap="round" />
<path d="M638.2,425 L638.2,488.2" fill="none" stroke="#000" stroke-width="1.75" stroke-linejoin="round" stroke-linecap="round" />
<path d="M661.8,470 L674.5,477.9" fill="none" stroke="#000" stroke-width="1.3" stroke-linejoin="round" stroke-linecap="round" />
<path d="M677.5,348.75 L729,321" fill="none" stroke="#000" stroke-width="1.75" stroke-linejoin="round" stroke-linecap="round" />
<path d="M574.2,511 C578.5,510.08 590.92,507.8 600,505.5 C609.08,503.2 621.7,499.45 628.7,497.2 C635.7,494.95 639.78,492.87 642,492" fill="none" stroke="#000" stroke-width="1.75" stroke-linejoin="round" stroke-linecap="round" />
<path d="M639,493.25 A4.25,5 28 0 1 647.75,489" fill="#fff" stroke="#000" stroke-width="1.5"/>
<path d="M646.9,492.3 L661.8,501.8" fill="none" stroke="#000" stroke-width="1.75" stroke-linejoin="round" stroke-linecap="round" />
<path d="M581.25,483.62 A6.375,7.5 28 0 1 594.38,477.25" fill="#fff" stroke="#000" stroke-width="1.5"/>
<path d="M599.5,477.1 L615.3,484.2" fill="none" stroke="#000" stroke-width="1.2" stroke-linejoin="round" stroke-linecap="round" />
<path d="M521.4,573.7 A3.4,4 28 0 1 528.4,570.3" fill="#fff" stroke="#000" stroke-width="1.5"/>
<g transform="translate(593.75,299.4) rotate(28)"><path d="M0,-8.7 L-23.0,-8.7 A4.6,8.7 0 0 0 -23.0,8.7 L0,8.7 Z" fill="#000" stroke="#000" stroke-width="1.3"/><path d="M-22,-7.4 A4.6,7.699999999999999 0 0 0 -22,7.4" fill="none" stroke="#fff" stroke-width="0.6" opacity="0.9"/><path d="M-19.14,-7.4 A4.6,7.699999999999999 0 0 0 -19.14,7.4" fill="none" stroke="#fff" stroke-width="0.6" opacity="0.9"/><path d="M-16.29,-7.4 A4.6,7.699999999999999 0 0 0 -16.29,7.4" fill="none" stroke="#fff" stroke-width="0.6" opacity="0.9"/><path d="M-13.43,-7.4 A4.6,7.699999999999999 0 0 0 -13.43,7.4" fill="none" stroke="#fff" stroke-width="0.6" opacity="0.9"/><path d="M-10.57,-7.4 A4.6,7.699999999999999 0 0 0 -10.57,7.4" fill="none" stroke="#fff" stroke-width="0.6" opacity="0.9"/><path d="M-7.71,-7.4 A4.6,7.699999999999999 0 0 0 -7.71,7.4" fill="none" stroke="#fff" stroke-width="0.6" opacity="0.9"/><path d="M-4.86,-7.4 A4.6,7.699999999999999 0 0 0 -4.86,7.4" fill="none" stroke="#fff" stroke-width="0.6" opacity="0.9"/><path d="M-2,-7.4 A4.6,7.699999999999999 0 0 0 -2,7.4" fill="none" stroke="#fff" stroke-width="0.6" opacity="0.9"/><ellipse cx="0" cy="0" rx="4.6" ry="8.7" fill="#fff" stroke="#000" stroke-width="1.9"/></g>
<g transform="translate(570.6,438.75) rotate(28)"><path d="M0,-8.7 L-23.0,-8.7 A4.6,8.7 0 0 0 -23.0,8.7 L0,8.7 Z" fill="#000" stroke="#000" stroke-width="1.3"/><path d="M-22,-7.4 A4.6,7.699999999999999 0 0 0 -22,7.4" fill="none" stroke="#fff" stroke-width="0.6" opacity="0.9"/><path d="M-19.14,-7.4 A4.6,7.699999999999999 0 0 0 -19.14,7.4" fill="none" stroke="#fff" stroke-width="0.6" opacity="0.9"/><path d="M-16.29,-7.4 A4.6,7.699999999999999 0 0 0 -16.29,7.4" fill="none" stroke="#fff" stroke-width="0.6" opacity="0.9"/><path d="M-13.43,-7.4 A4.6,7.699999999999999 0 0 0 -13.43,7.4" fill="none" stroke="#fff" stroke-width="0.6" opacity="0.9"/><path d="M-10.57,-7.4 A4.6,7.699999999999999 0 0 0 -10.57,7.4" fill="none" stroke="#fff" stroke-width="0.6" opacity="0.9"/><path d="M-7.71,-7.4 A4.6,7.699999999999999 0 0 0 -7.71,7.4" fill="none" stroke="#fff" stroke-width="0.6" opacity="0.9"/><path d="M-4.86,-7.4 A4.6,7.699999999999999 0 0 0 -4.86,7.4" fill="none" stroke="#fff" stroke-width="0.6" opacity="0.9"/><path d="M-2,-7.4 A4.6,7.699999999999999 0 0 0 -2,7.4" fill="none" stroke="#fff" stroke-width="0.6" opacity="0.9"/><ellipse cx="0" cy="0" rx="4.6" ry="8.7" fill="#fff" stroke="#000" stroke-width="1.9"/></g>
<g transform="translate(593.4,551.4) rotate(28)"><path d="M0,-8.7 L-23.0,-8.7 A4.6,8.7 0 0 0 -23.0,8.7 L0,8.7 Z" fill="#000" stroke="#000" stroke-width="1.3"/><path d="M-22,-7.4 A4.6,7.699999999999999 0 0 0 -22,7.4" fill="none" stroke="#fff" stroke-width="0.6" opacity="0.9"/><path d="M-19.14,-7.4 A4.6,7.699999999999999 0 0 0 -19.14,7.4" fill="none" stroke="#fff" stroke-width="0.6" opacity="0.9"/><path d="M-16.29,-7.4 A4.6,7.699999999999999 0 0 0 -16.29,7.4" fill="none" stroke="#fff" stroke-width="0.6" opacity="0.9"/><path d="M-13.43,-7.4 A4.6,7.699999999999999 0 0 0 -13.43,7.4" fill="none" stroke="#fff" stroke-width="0.6" opacity="0.9"/><path d="M-10.57,-7.4 A4.6,7.699999999999999 0 0 0 -10.57,7.4" fill="none" stroke="#fff" stroke-width="0.6" opacity="0.9"/><path d="M-7.71,-7.4 A4.6,7.699999999999999 0 0 0 -7.71,7.4" fill="none" stroke="#fff" stroke-width="0.6" opacity="0.9"/><path d="M-4.86,-7.4 A4.6,7.699999999999999 0 0 0 -4.86,7.4" fill="none" stroke="#fff" stroke-width="0.6" opacity="0.9"/><path d="M-2,-7.4 A4.6,7.699999999999999 0 0 0 -2,7.4" fill="none" stroke="#fff" stroke-width="0.6" opacity="0.9"/><ellipse cx="0" cy="0" rx="4.6" ry="8.7" fill="#fff" stroke="#000" stroke-width="1.9"/></g>
<g transform="translate(876.25,98.75) rotate(28)"><path d="M0,-8.7 L-23.0,-8.7 A4.6,8.7 0 0 0 -23.0,8.7 L0,8.7 Z" fill="#000" stroke="#000" stroke-width="1.3"/><path d="M-22,-7.4 A4.6,7.699999999999999 0 0 0 -22,7.4" fill="none" stroke="#fff" stroke-width="0.6" opacity="0.9"/><path d="M-19.14,-7.4 A4.6,7.699999999999999 0 0 0 -19.14,7.4" fill="none" stroke="#fff" stroke-width="0.6" opacity="0.9"/><path d="M-16.29,-7.4 A4.6,7.699999999999999 0 0 0 -16.29,7.4" fill="none" stroke="#fff" stroke-width="0.6" opacity="0.9"/><path d="M-13.43,-7.4 A4.6,7.699999999999999 0 0 0 -13.43,7.4" fill="none" stroke="#fff" stroke-width="0.6" opacity="0.9"/><path d="M-10.57,-7.4 A4.6,7.699999999999999 0 0 0 -10.57,7.4" fill="none" stroke="#fff" stroke-width="0.6" opacity="0.9"/><path d="M-7.71,-7.4 A4.6,7.699999999999999 0 0 0 -7.71,7.4" fill="none" stroke="#fff" stroke-width="0.6" opacity="0.9"/><path d="M-4.86,-7.4 A4.6,7.699999999999999 0 0 0 -4.86,7.4" fill="none" stroke="#fff" stroke-width="0.6" opacity="0.9"/><path d="M-2,-7.4 A4.6,7.699999999999999 0 0 0 -2,7.4" fill="none" stroke="#fff" stroke-width="0.6" opacity="0.9"/><ellipse cx="0" cy="0" rx="4.6" ry="8.7" fill="#fff" stroke="#000" stroke-width="1.9"/></g>
<g transform="translate(921,164.3) rotate(28)"><path d="M0,-8.7 L-23.0,-8.7 A4.6,8.7 0 0 0 -23.0,8.7 L0,8.7 Z" fill="#000" stroke="#000" stroke-width="1.3"/><path d="M-22,-7.4 A4.6,7.699999999999999 0 0 0 -22,7.4" fill="none" stroke="#fff" stroke-width="0.6" opacity="0.9"/><path d="M-19.14,-7.4 A4.6,7.699999999999999 0 0 0 -19.14,7.4" fill="none" stroke="#fff" stroke-width="0.6" opacity="0.9"/><path d="M-16.29,-7.4 A4.6,7.699999999999999 0 0 0 -16.29,7.4" fill="none" stroke="#fff" stroke-width="0.6" opacity="0.9"/><path d="M-13.43,-7.4 A4.6,7.699999999999999 0 0 0 -13.43,7.4" fill="none" stroke="#fff" stroke-width="0.6" opacity="0.9"/><path d="M-10.57,-7.4 A4.6,7.699999999999999 0 0 0 -10.57,7.4" fill="none" stroke="#fff" stroke-width="0.6" opacity="0.9"/><path d="M-7.71,-7.4 A4.6,7.699999999999999 0 0 0 -7.71,7.4" fill="none" stroke="#fff" stroke-width="0.6" opacity="0.9"/><path d="M-4.86,-7.4 A4.6,7.699999999999999 0 0 0 -4.86,7.4" fill="none" stroke="#fff" stroke-width="0.6" opacity="0.9"/><path d="M-2,-7.4 A4.6,7.699999999999999 0 0 0 -2,7.4" fill="none" stroke="#fff" stroke-width="0.6" opacity="0.9"/><ellipse cx="0" cy="0" rx="4.6" ry="8.7" fill="#fff" stroke="#000" stroke-width="1.9"/></g>
<g transform="translate(920.5,311) rotate(28)"><path d="M0,-8.7 L-23.0,-8.7 A4.6,8.7 0 0 0 -23.0,8.7 L0,8.7 Z" fill="#000" stroke="#000" stroke-width="1.3"/><path d="M-22,-7.4 A4.6,7.699999999999999 0 0 0 -22,7.4" fill="none" stroke="#fff" stroke-width="0.6" opacity="0.9"/><path d="M-19.14,-7.4 A4.6,7.699999999999999 0 0 0 -19.14,7.4" fill="none" stroke="#fff" stroke-width="0.6" opacity="0.9"/><path d="M-16.29,-7.4 A4.6,7.699999999999999 0 0 0 -16.29,7.4" fill="none" stroke="#fff" stroke-width="0.6" opacity="0.9"/><path d="M-13.43,-7.4 A4.6,7.699999999999999 0 0 0 -13.43,7.4" fill="none" stroke="#fff" stroke-width="0.6" opacity="0.9"/><path d="M-10.57,-7.4 A4.6,7.699999999999999 0 0 0 -10.57,7.4" fill="none" stroke="#fff" stroke-width="0.6" opacity="0.9"/><path d="M-7.71,-7.4 A4.6,7.699999999999999 0 0 0 -7.71,7.4" fill="none" stroke="#fff" stroke-width="0.6" opacity="0.9"/><path d="M-4.86,-7.4 A4.6,7.699999999999999 0 0 0 -4.86,7.4" fill="none" stroke="#fff" stroke-width="0.6" opacity="0.9"/><path d="M-2,-7.4 A4.6,7.699999999999999 0 0 0 -2,7.4" fill="none" stroke="#fff" stroke-width="0.6" opacity="0.9"/><ellipse cx="0" cy="0" rx="4.6" ry="8.7" fill="#fff" stroke="#000" stroke-width="1.9"/></g>
<g transform="translate(876.3,422.1) rotate(28)"><path d="M0,-8.7 L-23.0,-8.7 A4.6,8.7 0 0 0 -23.0,8.7 L0,8.7 Z" fill="#000" stroke="#000" stroke-width="1.3"/><path d="M-22,-7.4 A4.6,7.699999999999999 0 0 0 -22,7.4" fill="none" stroke="#fff" stroke-width="0.6" opacity="0.9"/><path d="M-19.14,-7.4 A4.6,7.699999999999999 0 0 0 -19.14,7.4" fill="none" stroke="#fff" stroke-width="0.6" opacity="0.9"/><path d="M-16.29,-7.4 A4.6,7.699999999999999 0 0 0 -16.29,7.4" fill="none" stroke="#fff" stroke-width="0.6" opacity="0.9"/><path d="M-13.43,-7.4 A4.6,7.699999999999999 0 0 0 -13.43,7.4" fill="none" stroke="#fff" stroke-width="0.6" opacity="0.9"/><path d="M-10.57,-7.4 A4.6,7.699999999999999 0 0 0 -10.57,7.4" fill="none" stroke="#fff" stroke-width="0.6" opacity="0.9"/><path d="M-7.71,-7.4 A4.6,7.699999999999999 0 0 0 -7.71,7.4" fill="none" stroke="#fff" stroke-width="0.6" opacity="0.9"/><path d="M-4.86,-7.4 A4.6,7.699999999999999 0 0 0 -4.86,7.4" fill="none" stroke="#fff" stroke-width="0.6" opacity="0.9"/><path d="M-2,-7.4 A4.6,7.699999999999999 0 0 0 -2,7.4" fill="none" stroke="#fff" stroke-width="0.6" opacity="0.9"/><ellipse cx="0" cy="0" rx="4.6" ry="8.7" fill="#fff" stroke="#000" stroke-width="1.9"/></g>
<g transform="translate(528.5,238.3) scale(1.0)"><path d="M-25,-3 L-20.5,-16.5 L-9.5,-21 L-3,-17.5 L1,-13 L3,-6 L-2,8.5 L-14,9 L-19.5,4.5 Z" fill="#fff" stroke="#000" stroke-width="1.6" stroke-linejoin="round"/><path d="M-20.5,-16.5 L-17.5,-9.5 L-19.2,3.5 M-17.5,-9.5 L-7,-17" fill="none" stroke="#000" stroke-width="1.4"/><path d="M-17,-2 Q-15,-13.5 -2,-14.5" fill="none" stroke="#000" stroke-width="2.2"/><path d="M-14.8,6 Q-16,-9.5 -5,-12" fill="none" stroke="#000" stroke-width="1.1"/><path d="M-12.5,6.5 Q-13,-7 -3,-10.5" fill="none" stroke="#000" stroke-width="1.7"/><path d="M-19,4.8 L-14,9 L-5,9.8" fill="none" stroke="#000" stroke-width="2.0"/><ellipse cx="0" cy="0" rx="10" ry="6.7" transform="rotate(-58)" fill="#fff" stroke="#000" stroke-width="2.1"/><path d="M-3.4,-4.6 L1.6,-5 L3.2,-0.8 L1.2,3.8 L-3.4,4.2 L-5,0 Z M-4.2,2.2 L2.4,-3.2" fill="none" stroke="#000" stroke-width="1.5"/></g>
<g transform="translate(685,218.75) scale(1.0)"><path d="M-25,-3 L-20.5,-16.5 L-9.5,-21 L-3,-17.5 L1,-13 L3,-6 L-2,8.5 L-14,9 L-19.5,4.5 Z" fill="#fff" stroke="#000" stroke-width="1.6" stroke-linejoin="round"/><path d="M-20.5,-16.5 L-17.5,-9.5 L-19.2,3.5 M-17.5,-9.5 L-7,-17" fill="none" stroke="#000" stroke-width="1.4"/><path d="M-17,-2 Q-15,-13.5 -2,-14.5" fill="none" stroke="#000" stroke-width="2.2"/><path d="M-14.8,6 Q-16,-9.5 -5,-12" fill="none" stroke="#000" stroke-width="1.1"/><path d="M-12.5,6.5 Q-13,-7 -3,-10.5" fill="none" stroke="#000" stroke-width="1.7"/><path d="M-19,4.8 L-14,9 L-5,9.8" fill="none" stroke="#000" stroke-width="2.0"/><ellipse cx="0" cy="0" rx="10" ry="6.7" transform="rotate(-58)" fill="#fff" stroke="#000" stroke-width="2.1"/><path d="M-3.4,-4.6 L1.6,-5 L3.2,-0.8 L1.2,3.8 L-3.4,4.2 L-5,0 Z M-4.2,2.2 L2.4,-3.2" fill="none" stroke="#000" stroke-width="1.5"/></g>
<g transform="translate(771.5,156) scale(1.0)"><path d="M-25,-3 L-20.5,-16.5 L-9.5,-21 L-3,-17.5 L1,-13 L3,-6 L-2,8.5 L-14,9 L-19.5,4.5 Z" fill="#fff" stroke="#000" stroke-width="1.6" stroke-linejoin="round"/><path d="M-20.5,-16.5 L-17.5,-9.5 L-19.2,3.5 M-17.5,-9.5 L-7,-17" fill="none" stroke="#000" stroke-width="1.4"/><path d="M-17,-2 Q-15,-13.5 -2,-14.5" fill="none" stroke="#000" stroke-width="2.2"/><path d="M-14.8,6 Q-16,-9.5 -5,-12" fill="none" stroke="#000" stroke-width="1.1"/><path d="M-12.5,6.5 Q-13,-7 -3,-10.5" fill="none" stroke="#000" stroke-width="1.7"/><path d="M-19,4.8 L-14,9 L-5,9.8" fill="none" stroke="#000" stroke-width="2.0"/><ellipse cx="0" cy="0" rx="10" ry="6.7" transform="rotate(-58)" fill="#fff" stroke="#000" stroke-width="2.1"/><path d="M-3.4,-4.6 L1.6,-5 L3.2,-0.8 L1.2,3.8 L-3.4,4.2 L-5,0 Z M-4.2,2.2 L2.4,-3.2" fill="none" stroke="#000" stroke-width="1.5"/></g>
<g transform="translate(484.3,351) scale(1.0)"><path d="M-25,-3 L-20.5,-16.5 L-9.5,-21 L-3,-17.5 L1,-13 L3,-6 L-2,8.5 L-14,9 L-19.5,4.5 Z" fill="#fff" stroke="#000" stroke-width="1.6" stroke-linejoin="round"/><path d="M-20.5,-16.5 L-17.5,-9.5 L-19.2,3.5 M-17.5,-9.5 L-7,-17" fill="none" stroke="#000" stroke-width="1.4"/><path d="M-17,-2 Q-15,-13.5 -2,-14.5" fill="none" stroke="#000" stroke-width="2.2"/><path d="M-14.8,6 Q-16,-9.5 -5,-12" fill="none" stroke="#000" stroke-width="1.1"/><path d="M-12.5,6.5 Q-13,-7 -3,-10.5" fill="none" stroke="#000" stroke-width="1.7"/><path d="M-19,4.8 L-14,9 L-5,9.8" fill="none" stroke="#000" stroke-width="2.0"/><ellipse cx="0" cy="0" rx="10" ry="6.7" transform="rotate(-58)" fill="#fff" stroke="#000" stroke-width="2.1"/><path d="M-3.4,-4.6 L1.6,-5 L3.2,-0.8 L1.2,3.8 L-3.4,4.2 L-5,0 Z M-4.2,2.2 L2.4,-3.2" fill="none" stroke="#000" stroke-width="1.5"/></g>
<g transform="translate(833,222) scale(1.0)"><path d="M-25,-3 L-20.5,-16.5 L-9.5,-21 L-3,-17.5 L1,-13 L3,-6 L-2,8.5 L-14,9 L-19.5,4.5 Z" fill="#fff" stroke="#000" stroke-width="1.6" stroke-linejoin="round"/><path d="M-20.5,-16.5 L-17.5,-9.5 L-19.2,3.5 M-17.5,-9.5 L-7,-17" fill="none" stroke="#000" stroke-width="1.4"/><path d="M-17,-2 Q-15,-13.5 -2,-14.5" fill="none" stroke="#000" stroke-width="2.2"/><path d="M-14.8,6 Q-16,-9.5 -5,-12" fill="none" stroke="#000" stroke-width="1.1"/><path d="M-12.5,6.5 Q-13,-7 -3,-10.5" fill="none" stroke="#000" stroke-width="1.7"/><path d="M-19,4.8 L-14,9 L-5,9.8" fill="none" stroke="#000" stroke-width="2.0"/><ellipse cx="0" cy="0" rx="10" ry="6.7" transform="rotate(-58)" fill="#fff" stroke="#000" stroke-width="2.1"/><path d="M-3.4,-4.6 L1.6,-5 L3.2,-0.8 L1.2,3.8 L-3.4,4.2 L-5,0 Z M-4.2,2.2 L2.4,-3.2" fill="none" stroke="#000" stroke-width="1.5"/></g>
<g transform="translate(810,362.5) scale(1.0)"><path d="M-25,-3 L-20.5,-16.5 L-9.5,-21 L-3,-17.5 L1,-13 L3,-6 L-2,8.5 L-14,9 L-19.5,4.5 Z" fill="#fff" stroke="#000" stroke-width="1.6" stroke-linejoin="round"/><path d="M-20.5,-16.5 L-17.5,-9.5 L-19.2,3.5 M-17.5,-9.5 L-7,-17" fill="none" stroke="#000" stroke-width="1.4"/><path d="M-17,-2 Q-15,-13.5 -2,-14.5" fill="none" stroke="#000" stroke-width="2.2"/><path d="M-14.8,6 Q-16,-9.5 -5,-12" fill="none" stroke="#000" stroke-width="1.1"/><path d="M-12.5,6.5 Q-13,-7 -3,-10.5" fill="none" stroke="#000" stroke-width="1.7"/><path d="M-19,4.8 L-14,9 L-5,9.8" fill="none" stroke="#000" stroke-width="2.0"/><ellipse cx="0" cy="0" rx="10" ry="6.7" transform="rotate(-58)" fill="#fff" stroke="#000" stroke-width="2.1"/><path d="M-3.4,-4.6 L1.6,-5 L3.2,-0.8 L1.2,3.8 L-3.4,4.2 L-5,0 Z M-4.2,2.2 L2.4,-3.2" fill="none" stroke="#000" stroke-width="1.5"/></g>
<g transform="translate(483.75,500) scale(1.0)"><path d="M-25,-3 L-20.5,-16.5 L-9.5,-21 L-3,-17.5 L1,-13 L3,-6 L-2,8.5 L-14,9 L-19.5,4.5 Z" fill="#fff" stroke="#000" stroke-width="1.6" stroke-linejoin="round"/><path d="M-20.5,-16.5 L-17.5,-9.5 L-19.2,3.5 M-17.5,-9.5 L-7,-17" fill="none" stroke="#000" stroke-width="1.4"/><path d="M-17,-2 Q-15,-13.5 -2,-14.5" fill="none" stroke="#000" stroke-width="2.2"/><path d="M-14.8,6 Q-16,-9.5 -5,-12" fill="none" stroke="#000" stroke-width="1.1"/><path d="M-12.5,6.5 Q-13,-7 -3,-10.5" fill="none" stroke="#000" stroke-width="1.7"/><path d="M-19,4.8 L-14,9 L-5,9.8" fill="none" stroke="#000" stroke-width="2.0"/><ellipse cx="0" cy="0" rx="10" ry="6.7" transform="rotate(-58)" fill="#fff" stroke="#000" stroke-width="2.1"/><path d="M-3.4,-4.6 L1.6,-5 L3.2,-0.8 L1.2,3.8 L-3.4,4.2 L-5,0 Z M-4.2,2.2 L2.4,-3.2" fill="none" stroke="#000" stroke-width="1.5"/></g>
<g transform="translate(684.2,520.5) scale(1.0)"><path d="M-25,-3 L-20.5,-16.5 L-9.5,-21 L-3,-17.5 L1,-13 L3,-6 L-2,8.5 L-14,9 L-19.5,4.5 Z" fill="#fff" stroke="#000" stroke-width="1.6" stroke-linejoin="round"/><path d="M-20.5,-16.5 L-17.5,-9.5 L-19.2,3.5 M-17.5,-9.5 L-7,-17" fill="none" stroke="#000" stroke-width="1.4"/><path d="M-17,-2 Q-15,-13.5 -2,-14.5" fill="none" stroke="#000" stroke-width="2.2"/><path d="M-14.8,6 Q-16,-9.5 -5,-12" fill="none" stroke="#000" stroke-width="1.1"/><path d="M-12.5,6.5 Q-13,-7 -3,-10.5" fill="none" stroke="#000" stroke-width="1.7"/><path d="M-19,4.8 L-14,9 L-5,9.8" fill="none" stroke="#000" stroke-width="2.0"/><ellipse cx="0" cy="0" rx="10" ry="6.7" transform="rotate(-58)" fill="#fff" stroke="#000" stroke-width="2.1"/><path d="M-3.4,-4.6 L1.6,-5 L3.2,-0.8 L1.2,3.8 L-3.4,4.2 L-5,0 Z M-4.2,2.2 L2.4,-3.2" fill="none" stroke="#000" stroke-width="1.5"/></g>
<g transform="translate(772.4,481) scale(1.0)"><path d="M-25,-3 L-20.5,-16.5 L-9.5,-21 L-3,-17.5 L1,-13 L3,-6 L-2,8.5 L-14,9 L-19.5,4.5 Z" fill="#fff" stroke="#000" stroke-width="1.6" stroke-linejoin="round"/><path d="M-20.5,-16.5 L-17.5,-9.5 L-19.2,3.5 M-17.5,-9.5 L-7,-17" fill="none" stroke="#000" stroke-width="1.4"/><path d="M-17,-2 Q-15,-13.5 -2,-14.5" fill="none" stroke="#000" stroke-width="2.2"/><path d="M-14.8,6 Q-16,-9.5 -5,-12" fill="none" stroke="#000" stroke-width="1.1"/><path d="M-12.5,6.5 Q-13,-7 -3,-10.5" fill="none" stroke="#000" stroke-width="1.7"/><path d="M-19,4.8 L-14,9 L-5,9.8" fill="none" stroke="#000" stroke-width="2.0"/><ellipse cx="0" cy="0" rx="10" ry="6.7" transform="rotate(-58)" fill="#fff" stroke="#000" stroke-width="2.1"/><path d="M-3.4,-4.6 L1.6,-5 L3.2,-0.8 L1.2,3.8 L-3.4,4.2 L-5,0 Z M-4.2,2.2 L2.4,-3.2" fill="none" stroke="#000" stroke-width="1.5"/></g>
<path d="M631.8,755 L631.8,896 A47.4,27.5 0 0 0 726.6,896 L726.6,755 Z" fill="#fff" stroke="none"/>
<line x1="631.8" y1="755" x2="631.8" y2="896" stroke="#000" stroke-width="2.0" stroke-linecap="butt" />
<line x1="726.6" y1="755" x2="726.6" y2="896" stroke="#000" stroke-width="2.0" stroke-linecap="butt" />
<path d="M631.9,896 A47.4,27.5 0 0 0 726.7,896" fill="none" stroke="#000" stroke-width="2.0" />
<ellipse cx="679.3" cy="754.4" rx="47.4" ry="26.5" fill="#fff" stroke="#000" stroke-width="2.1" />
<path d="M632.3,765 A47,26.5 0 0 0 726.3,765" fill="none" stroke="#000" stroke-width="1.8" />
<path d="M632.1,769.5 A47.2,26.5 0 0 0 726.5,769.5" fill="none" stroke="#000" stroke-width="1.8" />
<defs><clipPath id="bore"><ellipse cx="679.4" cy="754.3" rx="36.9" ry="21"/></clipPath></defs>
<ellipse cx="679.4" cy="757" rx="35.5" ry="20.5" fill="none" stroke="#000" stroke-width="2.0" clip-path="url(#bore)"/>
<ellipse cx="679.4" cy="762.15" rx="34.9" ry="20.35" fill="none" stroke="#000" stroke-width="2.0" clip-path="url(#bore)"/>
<ellipse cx="679.4" cy="767.3" rx="34.3" ry="20.2" fill="none" stroke="#000" stroke-width="2.0" clip-path="url(#bore)"/>
<ellipse cx="679.4" cy="772.45" rx="33.7" ry="20.05" fill="none" stroke="#000" stroke-width="2.0" clip-path="url(#bore)"/>
<ellipse cx="679.4" cy="777.6" rx="33.1" ry="19.9" fill="none" stroke="#000" stroke-width="2.0" clip-path="url(#bore)"/>
<ellipse cx="679.4" cy="782.75" rx="32.5" ry="19.75" fill="none" stroke="#000" stroke-width="2.0" clip-path="url(#bore)"/>
<ellipse cx="679.4" cy="787.9" rx="31.9" ry="19.6" fill="none" stroke="#000" stroke-width="2.0" clip-path="url(#bore)"/>
<ellipse cx="679.4" cy="754.3" rx="36.9" ry="21" fill="none" stroke="#000" stroke-width="2.8" />
<ellipse cx="679.4" cy="772.6" rx="11.5" ry="3.2" fill="none" stroke="#000" stroke-width="1.8" />
<ellipse cx="681.9" cy="851" rx="16" ry="13.2" fill="none" stroke="#000" stroke-width="1.9" />
<path d="M667,845.5 C667.83,844.83 669.83,842.45 672,841.5 C674.17,840.55 677.33,839.95 680,839.8 C682.67,839.65 685.58,839.98 688,840.6 C690.42,841.22 692.92,842.43 694.5,843.5 C696.08,844.57 697,846.42 697.5,847" fill="none" stroke="#000" stroke-width="2.1" stroke-linejoin="round" stroke-linecap="round" />
<path d="M666.3,848.7 C667.08,848.08 669.25,846.02 671,845 C672.75,843.98 674.07,842.92 676.8,842.6 C679.53,842.28 684.23,842.48 687.4,843.1 C690.57,843.72 694.4,845.77 695.8,846.3" fill="none" stroke="#000" stroke-width="1.5" stroke-linejoin="round" stroke-linecap="round" />
<path d="M668.4,848.6 C669.98,848.27 674.48,846.53 677.9,846.6 C681.32,846.67 686.45,848.2 688.9,849 C691.35,849.8 691.98,851 692.6,851.4" fill="none" stroke="#000" stroke-width="1.9" stroke-linejoin="round" stroke-linecap="round" />
<path d="M667.4,849.5 C668.53,850.52 671.93,854.42 674.2,855.6 C676.47,856.78 678.8,856.77 681,856.6 C683.2,856.43 684.85,856.32 687.4,854.6 C689.95,852.88 694.82,847.68 696.3,846.3" fill="none" stroke="#000" stroke-width="1.9" stroke-linejoin="round" stroke-linecap="round" />
<path d="M674,855.2 C675.17,855.33 679,856.15 681,856 C683,855.85 685.17,854.58 686,854.3" fill="none" stroke="#000" stroke-width="2.6" stroke-linejoin="round" stroke-linecap="round" />
<line x1="679.1" y1="710" x2="679.1" y2="742" stroke="#000" stroke-width="2.0" stroke-linecap="butt" />
<path d="M621.9,1177.4 L621.9,1243 A57.4,34 0 0 0 736.8,1243 L736.8,1177.4 Z" fill="#fff" stroke="none"/>
<path d="M548,1269.5 C549.5,1270.82 553.17,1273.2 557,1277.4 C560.83,1281.6 566.68,1288.38 571,1294.7 C575.32,1301.02 578.68,1306.08 582.9,1315.3 C587.12,1324.52 588.87,1330.88 596.3,1350 C603.73,1369.12 620.22,1411.04 627.5,1430 C634.78,1448.96 637.92,1458.12 640,1463.75 L703.75,1440 L706,1300 Z" fill="#fff" stroke="none"/>
<path d="M548,1269.5 C549.5,1270.82 553.17,1273.2 557,1277.4 C560.83,1281.6 566.68,1288.38 571,1294.7 C575.32,1301.02 578.68,1306.08 582.9,1315.3 C587.12,1324.52 594.07,1344.22 596.3,1350" fill="none" stroke="#000" stroke-width="1.7" stroke-linejoin="round" stroke-linecap="round" />
<path d="M596.3,1350 L640,1463.75" fill="none" stroke="#000" stroke-width="1.7" stroke-linejoin="round" stroke-linecap="round" />
<path d="M640,1463.75 C643.33,1462.96 652.83,1461.04 660,1459 C667.17,1456.96 675.71,1454.67 683,1451.5 C690.29,1448.33 700.29,1441.92 703.75,1440" fill="none" stroke="#000" stroke-width="1.7" stroke-linejoin="round" stroke-linecap="round" />
<path d="M685.6,1391.25 L703.75,1440" fill="none" stroke="#000" stroke-width="1.7" stroke-linejoin="round" stroke-linecap="round" />
<path d="M685.6,1391.25 C685.92,1389.54 686.27,1384.38 687.5,1381 C688.73,1377.62 690.92,1373.67 693,1371 C695.08,1368.33 697.75,1366.67 700,1365 C702.25,1363.33 705.42,1361.67 706.5,1361" fill="none" stroke="#000" stroke-width="1.7" stroke-linejoin="round" stroke-linecap="round" />
<path d="M490,1115.6 L526,1136 L545,1160 L545,1185 L520,1240 L470,1254 L428.75,1230 L415,1212 L413,1185 L425,1155 L445,1128 L470,1114 Z" fill="#fff" stroke="none"/>
<path d="M490,1115.6 C487.92,1115.29 482.92,1113.02 477.5,1113.75 C472.08,1114.48 464.17,1116.04 457.5,1120 C450.83,1123.96 443.33,1130.42 437.5,1137.5 C431.67,1144.58 426.46,1153.75 422.5,1162.5 C418.54,1171.25 415,1181.67 413.75,1190 C412.5,1198.33 413.54,1206.46 415,1212.5 C416.46,1218.54 420.21,1223.33 422.5,1226.25 C424.79,1229.17 427.71,1229.38 428.75,1230" fill="none" stroke="#000" stroke-width="2.0" stroke-linejoin="round" stroke-linecap="round" />
<path d="M490,1115.6 L526.25,1136.25" fill="none" stroke="#000" stroke-width="1.7" stroke-linejoin="round" stroke-linecap="round" />
<path d="M428.75,1230 L460,1247.5" fill="none" stroke="#000" stroke-width="1.7" stroke-linejoin="round" stroke-linecap="round" />
<ellipse cx="496.4" cy="1194" rx="65.2" ry="38.3" fill="#fff" stroke="#000" stroke-width="1.7" transform="rotate(-59.1 496.4 1194)" />
<ellipse cx="499.3" cy="1196" rx="61.5" ry="34.1" fill="none" stroke="#000" stroke-width="1.7" transform="rotate(-58.7 499.3 1196)" />
<path d="M535,1171.25 C533.33,1171.04 529.79,1168.54 525,1170 C520.21,1171.46 511.46,1175.21 506.25,1180 C501.04,1184.79 496.67,1192.08 493.75,1198.75 C490.83,1205.42 488.96,1213.75 488.75,1220 C488.54,1226.25 490.46,1232.25 492.5,1236.25 C494.54,1240.25 499.58,1242.71 501,1244 L706,1357.3 L740,1290 L630,1222 Z" fill="#fff" stroke="none"/>
<path d="M535,1171.25 C533.33,1171.04 529.79,1168.54 525,1170 C520.21,1171.46 511.46,1175.21 506.25,1180 C501.04,1184.79 496.67,1192.08 493.75,1198.75 C490.83,1205.42 488.96,1213.75 488.75,1220 C488.54,1226.25 490.46,1232.25 492.5,1236.25 C494.54,1240.25 499.58,1242.71 501,1244" fill="none" stroke="#000" stroke-width="1.7" stroke-linejoin="round" stroke-linecap="round" />
<path d="M535,1171.25 L622,1219.5" fill="none" stroke="#000" stroke-width="1.7" stroke-linejoin="round" stroke-linecap="round" />
<path d="M501,1243.5 L548,1269 L692.8,1353 L706,1360.5" fill="none" stroke="#000" stroke-width="1.7" stroke-linejoin="round" stroke-linecap="round" />
<path d="M625,1256 C626.25,1259.58 629.17,1271.21 632.5,1277.5 C635.83,1283.79 639.17,1289.27 645,1293.75 C650.83,1298.23 660.62,1302.43 667.5,1304.4 C674.38,1306.38 680.21,1305.71 686.25,1305.6 C692.29,1305.49 700.83,1304.06 703.75,1303.75" fill="#fff" stroke="#000" stroke-width="1.7" stroke-linejoin="round" stroke-linecap="round" />
<path d="M643.75,1269.5 C644.62,1271.25 647.12,1277.21 649,1280 C650.88,1282.79 652.75,1285.17 655,1286.25 C657.25,1287.33 659.67,1287.21 662.5,1286.5 C665.33,1285.79 668.92,1283.58 672,1282 C675.08,1280.42 679.5,1277.83 681,1277" fill="none" stroke="#000" stroke-width="1.7" stroke-linejoin="round" stroke-linecap="round" />
<path d="M697.5,1276.25 L707.5,1297.5" fill="none" stroke="#000" stroke-width="1.7" stroke-linejoin="round" stroke-linecap="round" />
<path d="M717.5,1268 C717.75,1269 718.08,1272 719,1274 C719.92,1276 721.17,1278.25 723,1280 C724.83,1281.75 727.83,1283.17 730,1284.5 C732.17,1285.83 735,1287.42 736,1288" fill="none" stroke="#000" stroke-width="1.7" stroke-linejoin="round" stroke-linecap="round" />
<path d="M719.5,1269 C719.75,1270 720.08,1273.08 721,1275 C721.92,1276.92 723.33,1279 725,1280.5 C726.67,1282 730,1283.42 731,1284" fill="none" stroke="#000" stroke-width="1.0" stroke-linejoin="round" stroke-linecap="round" />
<ellipse cx="718.4" cy="1323.5" rx="39.35" ry="24" fill="#fff" stroke="#000" stroke-width="2.0" transform="rotate(-57.8 718.4 1323.5)" />
<ellipse cx="720.5" cy="1324" rx="34.5" ry="21" fill="none" stroke="#000" stroke-width="1.7" transform="rotate(-61.7 720.5 1324)" />
<path d="M728,1286.5 L733,1291.5" fill="none" stroke="#000" stroke-width="1.2" stroke-linejoin="round" stroke-linecap="round" />
<path d="M705,1301.5 L710,1304" fill="none" stroke="#000" stroke-width="1.2" stroke-linejoin="round" stroke-linecap="round" />
<path d="M703,1357 L706,1359.5" fill="none" stroke="#000" stroke-width="1.2" stroke-linejoin="round" stroke-linecap="round" />
<path d="M621.9,1173.6 L621.9,1243 A57.4,34 0 0 0 736.8,1243 L736.8,1173.6 Z" fill="#fff" stroke="none"/>
<line x1="621.9" y1="1173.6" x2="621.9" y2="1243" stroke="#000" stroke-width="1.7" stroke-linecap="butt" />
<line x1="736.8" y1="1173.6" x2="736.8" y2="1243" stroke="#000" stroke-width="1.7" stroke-linecap="butt" />
<path d="M621.9,1243 A57.4,34 0 0 0 736.7,1243" fill="none" stroke="#000" stroke-width="1.7" />
<ellipse cx="679.3" cy="1173.6" rx="57.4" ry="31.6" fill="#fff" stroke="#000" stroke-width="1.7" />
<path d="M621.9,1173.6 A57.4,31.6 0 0 0 736.7,1173.6" fill="none" stroke="#000" stroke-width="2.3" />
<ellipse cx="679.6" cy="1174.5" rx="48.8" ry="26.5" fill="none" stroke="#000" stroke-width="1.7" />
<path d="M623,1189 A56.3,31.6 0 0 0 735.6,1189" fill="none" stroke="#000" stroke-width="2.4" />
<path d="M622.5,1194.4 A56.8,31.6 0 0 0 736.1,1194.4" fill="none" stroke="#000" stroke-width="1.5" />
<path d="M621.9,1200.2 A57.4,31.6 0 0 0 736.7,1200.2" fill="none" stroke="#000" stroke-width="1.6" />
<path d="M631.6,1104.7 L645.3,1160.5 A33.5,18 0 0 0 712.6,1160.5 L726.3,1104.7 Z" fill="#fff" stroke="none"/>
<path d="M631.6,1104.7 L645.3,1160.5" fill="none" stroke="#000" stroke-width="1.7" stroke-linejoin="round" stroke-linecap="round" />
<path d="M726.3,1104.7 L712.6,1160.5" fill="none" stroke="#000" stroke-width="1.7" stroke-linejoin="round" stroke-linecap="round" />
<path d="M645.3,1160.5 A33.5,18 0 0 0 712.6,1160.5" fill="none" stroke="#000" stroke-width="1.7"/>
<ellipse cx="679" cy="1102" rx="47.6" ry="26" fill="#fff" stroke="#000" stroke-width="1.7" />
<path d="M654.7,1040.5 L654.7,1100.5 A24.5,12.6 0 0 0 703.7,1100.5 L703.7,1040.5 Z" fill="#fff" stroke="none"/>
<line x1="654.7" y1="1040" x2="654.7" y2="1101" stroke="#000" stroke-width="2.0" stroke-linecap="butt" />
<line x1="703.7" y1="1040" x2="703.7" y2="1101" stroke="#000" stroke-width="2.0" stroke-linecap="butt" />
<path d="M655.2,1040 A24,12.6 0 0 0 703.2,1040" fill="none" stroke="#000" stroke-width="1.9" />
<path d="M655.2,1046.3 A24,12.6 0 0 0 703.2,1046.3" fill="none" stroke="#000" stroke-width="1.9" />
<path d="M655.2,1052.7 A24,12.6 0 0 0 703.2,1052.7" fill="none" stroke="#000" stroke-width="1.9" />
<path d="M655.2,1058.4 A24,12.6 0 0 0 703.2,1058.4" fill="none" stroke="#000" stroke-width="1.9" />
<path d="M655.2,1064.8 A24,12.6 0 0 0 703.2,1064.8" fill="none" stroke="#000" stroke-width="1.9" />
<path d="M655.2,1071.1 A24,12.6 0 0 0 703.2,1071.1" fill="none" stroke="#000" stroke-width="1.9" />
<path d="M655.2,1077.4 A24,12.6 0 0 0 703.2,1077.4" fill="none" stroke="#000" stroke-width="1.9" />
<path d="M655.2,1083.7 A24,12.6 0 0 0 703.2,1083.7" fill="none" stroke="#000" stroke-width="1.9" />
<path d="M655.2,1090 A24,12.6 0 0 0 703.2,1090" fill="none" stroke="#000" stroke-width="1.9" />
<path d="M654.7,1098.4 A24.5,12.6 0 0 0 703.7,1098.4" fill="none" stroke="#000" stroke-width="2.8" />
<path d="M654.7,1041 C655,1039.92 655.28,1036.33 656.5,1034.5 C657.72,1032.67 659.75,1030.98 662,1030 C664.25,1029.02 668.67,1028.83 670,1028.6" fill="none" stroke="#000" stroke-width="1.6" stroke-linejoin="round" stroke-linecap="round" />
<ellipse cx="680.5" cy="1040" rx="21.6" ry="12.6" fill="#fff" stroke="#000" stroke-width="1.8" />
<line x1="679.1" y1="1027.5" x2="679.1" y2="1031.7" stroke="#000" stroke-width="1.8" stroke-linecap="butt" />
</svg>
</body></html>
